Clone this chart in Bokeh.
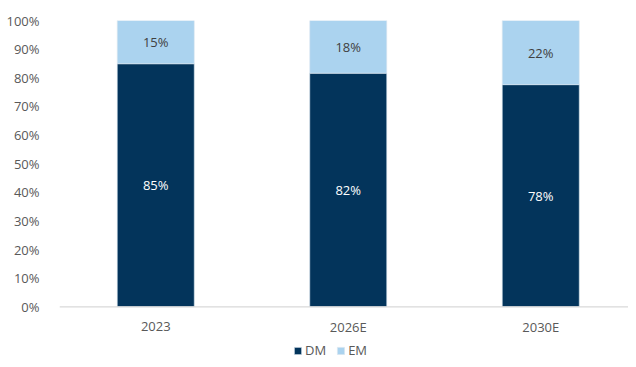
from bokeh.plotting import figure
from bokeh.models import (ColumnDataSource, Range1d, Legend, LegendItem, FixedTicker,
                          LabelSet, Span)
from bokeh.embed import file_html
from bokeh.resources import INLINE
from bokeh.core.properties import value

years = ["2023", "2026E", "2030E"]
dm = [84.9, 81.6, 77.6]
em = [15.1, 18.4, 22.4]
dm_labels = ["85%", "82%", "78%"]
em_labels = ["15%", "18%", "22%"]
y_ticks = [0, 10, 20, 30, 40, 50, 60, 70, 80, 90, 100]

DM_C = "#03345B"
EM_C = "#ABD3EF"
FONT = "Open Sans"
TXT = "#595959"

xpos = [i + 0.5 for i in range(len(years))]
src = ColumnDataSource(dict(
    x=xpos, year=years, DM=dm, EM=em,
    zero=[0] * len(years),
    dm_mid=[d / 2 for d in dm],
    em_mid=[d + e / 2 for d, e in zip(dm, em)],
    dm_lab=dm_labels, em_lab=em_labels,
))

W, H = 628, 359
BL, BT = 59, 20
frame_w = W - BL
frame_h = H - BT
px_per_cat = 192.5
px_per_pct = 2.863

p = figure(x_range=Range1d(0, frame_w / px_per_cat),
           y_range=Range1d(100 - frame_h / px_per_pct, 100),
           width=W, height=H, output_backend="svg", toolbar_location=None,
           min_border_left=BL, min_border_right=0, min_border_top=BT, min_border_bottom=0)
p.outline_line_color = None
p.xgrid.grid_line_color = None
p.ygrid.grid_line_color = None
p.xaxis.visible = False

rs = p.vbar_stack(["DM", "EM"], x="x", width=0.4, source=src,
                  color=[DM_C, EM_C], line_color="#DCE6F0", line_width=0.6)

p.add_layout(Span(location=0, dimension="width", line_color="#D9D9D9", line_width=1.2))

p.add_layout(LabelSet(x="x", y="dm_mid", text="dm_lab", source=src,
                      text_align="center", text_baseline="middle",
                      text_color="white", text_font_size="13px", text_font=value(FONT)))
p.add_layout(LabelSet(x="x", y="em_mid", text="em_lab", source=src,
                      text_align="center", text_baseline="middle",
                      text_color="#404040", text_font_size="13px", text_font=value(FONT)))
p.add_layout(LabelSet(x="x", y="zero", text="year", source=src, y_offset=-20,
                      text_align="center", text_baseline="middle",
                      text_color=TXT, text_font_size="13px", text_font=value(FONT)))

p.yaxis.ticker = FixedTicker(ticks=y_ticks)
p.yaxis.major_label_overrides = {t: f"{t}%" for t in y_ticks}
p.yaxis.axis_line_color = None
p.yaxis.major_tick_line_color = None
p.yaxis.minor_tick_line_color = None
p.yaxis.major_label_standoff = 14
p.yaxis.major_label_text_font_size = "13px"
p.yaxis.major_label_text_color = TXT
p.yaxis.major_label_text_font = FONT

legend = Legend(items=[LegendItem(label="DM", renderers=[rs[0]]),
                       LegendItem(label="EM", renderers=[rs[1]])],
                orientation="horizontal", location=(234, 0),
                label_text_font_size="13px", label_text_color=TXT,
                label_text_font=FONT, glyph_width=9, glyph_height=9,
                label_height=14, label_standoff=3, spacing=10,
                border_line_color=None, background_fill_alpha=0,
                padding=0, margin=0)
p.add_layout(legend, "center")

open("out.html", "w").write(file_html(p, INLINE))
